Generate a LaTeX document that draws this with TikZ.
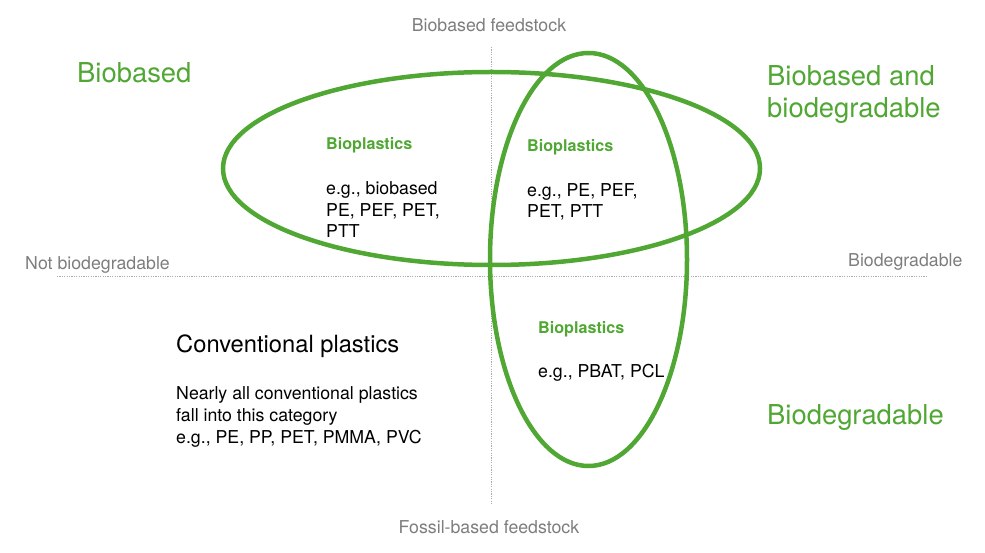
\documentclass[tikz,border=0pt]{standalone}
\usepackage{fontspec}
\setmainfont{TeX Gyre Heros}
\definecolor{bgreen}{RGB}{80,167,51}
\definecolor{axgray}{RGB}{125,125,125}
\definecolor{dotgray}{RGB}{170,170,170}
\tikzset{
  ring/.style={draw=bgreen, line width=4.5bp},
  axisline/.style={draw=dotgray, line width=1bp, dash pattern=on 1.2bp off 1.2bp},
  axislabel/.style={text=axgray, font=\fontsize{17.8}{21}\selectfont, inner sep=0pt},
  bigtitle/.style={text=bgreen, font=\fontsize{27.5}{33}\selectfont, inner sep=0pt, anchor=base west, align=left},
  biotitle/.style={text=bgreen, font=\fontsize{16.2}{20}\selectfont\bfseries, inner sep=0pt, anchor=base west},
  bodytext/.style={text=black, font=\fontsize{17.8}{21.8}\selectfont, inner sep=0pt, anchor=base west, align=left},
}
\begin{document}
\begin{tikzpicture}[x=1bp,y=-1bp]
\useasboundingbox (0,0) rectangle (985,553);
% axes
\coordinate (vtop) at (491,47);
\coordinate (vbot) at (491,505);
\coordinate (hleft) at (57,277);
\coordinate (hright) at (927,277);
\draw[axisline] (vtop) -- (vbot);
\draw[axisline] (hleft) -- (hright);
% ellipses
\draw[ring] (491.5,168.5) ellipse [x radius=268.5bp, y radius=96.5bp];
\draw[ring] (588.5,259.5) ellipse [x radius=98.5bp, y radius=206.5bp];
% axis labels
\node[axislabel, anchor=base] (topl) at (489,32) {Biobased feedstock};
\node[axislabel, anchor=base] (botl) at (489,533) {Fossil-based feedstock};
\node[axislabel, anchor=base west] (leftl) at (25,270) {Not biodegradable};
\node[axislabel, anchor=base west] (rightl) at (848,267) {Biodegradable};
% quadrant titles (base anchor of a multi-line node = last line)
\node[bigtitle] (q1) at (77,83) {Biobased};
\node[bigtitle] (q2) at (767,118) {Biobased and\\biodegradable};
\node[bigtitle] (q4) at (767,424) {Biodegradable};
% bioplastics
\node[biotitle] (b1) at (326,150) {Bioplastics};
\node[bodytext] (t1) at (326,238) {e.g., biobased\\PE, PEF, PET,\\PTT};
\node[biotitle] (b2) at (527,152) {Bioplastics};
\node[bodytext] (t2) at (527,218) {e.g., PE, PEF,\\PET, PTT};
\node[biotitle] (b3) at (538,334) {Bioplastics};
\node[bodytext] (t3) at (538,378) {e.g., PBAT, PCL};
% conventional
\node[bodytext, font=\fontsize{23.8}{28}\selectfont] (c1) at (176,353) {Conventional plastics};
\node[bodytext] (c2) at (176,443) {Nearly all conventional plastics\\fall into this category\\e.g., PE, PP, PET, PMMA, PVC};
\end{tikzpicture}
\end{document}
